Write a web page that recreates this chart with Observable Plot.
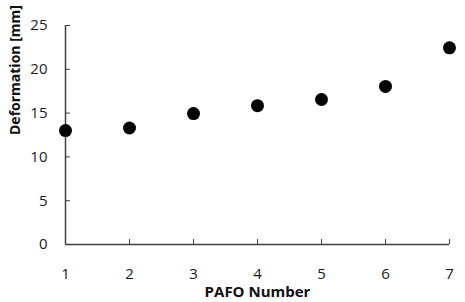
<!DOCTYPE html>
<html><head><meta charset="utf-8">
<script src="https://cdn.jsdelivr.net/npm/d3@7"></script>
<script src="https://cdn.jsdelivr.net/npm/@observablehq/plot@0.6"></script>
<style>body{margin:0;background:#fff}</style>
</head><body><div id="chart"></div>
<script>
const pafo = [1, 2, 3, 4, 5, 6, 7];
const deformation = [13.0, 13.3, 14.95, 15.85, 16.55, 18.05, 22.45];
const xTicks = [1, 2, 3, 4, 5, 6, 7];
const yTicks = [0, 5, 10, 15, 20, 25];
const data = pafo.map((p, i) => ({pafo: p, def: deformation[i]}));
const axisColor = "#404040";
const chart = Plot.plot({
  width: 465, height: 302,
  marginLeft: 65, marginRight: 16, marginTop: 25, marginBottom: 58,
  style: {fontFamily: "'Open Sans', Lato, sans-serif", fontSize: "15px", color: "#222", background: "#fff"},
  x: {domain: [1, 7]},
  y: {domain: [0, 25]},
  marks: [
    Plot.axisX(xTicks, {tickSize: -5, tickPadding: 29, stroke: axisColor, fontSize: 15, fill: "#1a1a1a", label: null}),
    Plot.axisY(yTicks, {tickSize: -5, tickPadding: 23, stroke: axisColor, fontSize: 15, fill: "#1a1a1a", label: null}),
    Plot.ruleY([0], {stroke: axisColor, strokeWidth: 1.5}),
    Plot.ruleX([1], {stroke: axisColor, strokeWidth: 1.5}),
    Plot.dot(data, {x: "pafo", y: "def", r: 6.5, fill: "black"}),
    Plot.text(["PAFO Number"], {frameAnchor: "bottom", lineAnchor: "middle", dy: 48, fontWeight: "bold", fontSize: 15, fill: "#111"}),
    Plot.text(["Deformation [mm]"], {frameAnchor: "left", dx: -50, rotate: -90, fontWeight: "bold", fontSize: 14, fill: "#111"})
  ]
});
document.getElementById("chart").appendChild(chart);
</script></body></html>
